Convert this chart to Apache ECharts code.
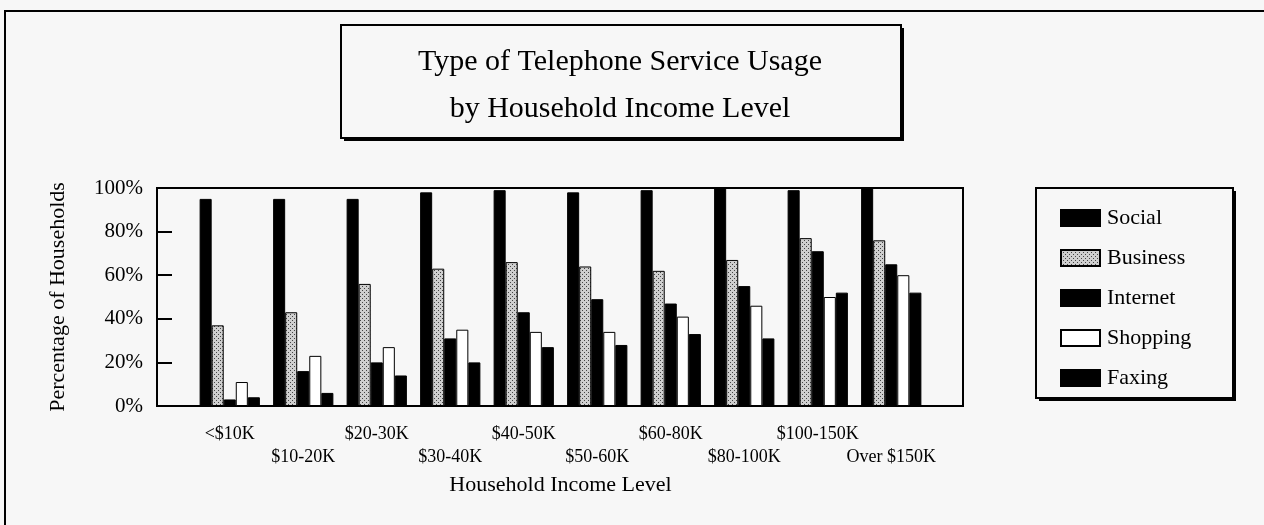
<!DOCTYPE html>
<html>
<head>
<meta charset="utf-8">
<script src="https://cdn.jsdelivr.net/npm/echarts@6/dist/echarts.min.js"></script>
<style>
  html, body { margin: 0; padding: 0; background: #f7f7f7; }
  #chart { width: 1264px; height: 525px; }
</style>
</head>
<body>
<div id="chart"></div>
<script>
var categories = ["<$10K", "$10-20K", "$20-30K", "$30-40K", "$40-50K",
  "$50-60K", "$60-80K", "$80-100K", "$100-150K", "Over $150K"];
var seriesNames = ["Social", "Business", "Internet", "Shopping", "Faxing"];
var social = [95, 95, 95, 98, 99, 98, 99, 100, 99, 100];
var business = [37, 43, 56, 63, 66, 64, 62, 67, 77, 76];
var internet = [3, 16, 20, 31, 43, 49, 47, 55, 71, 65];
var shopping = [11, 23, 27, 35, 34, 34, 41, 46, 50, 60];
var faxing = [4, 6, 14, 20, 27, 28, 33, 31, 52, 52];

var font = "Liberation Serif";

// dotted grey fill for the Business bars
var pat = document.createElement("canvas");
pat.width = 4;
pat.height = 4;
var pctx = pat.getContext("2d");
pctx.fillStyle = "#cfcfcf";
pctx.fillRect(0, 0, 4, 4);
pctx.fillStyle = "#444";
pctx.fillRect(0, 0, 1, 1);
pctx.fillRect(2, 2, 1, 1);

function bar(name, data, fill) {
  return {
    name: name,
    type: "bar",
    data: data,
    barGap: "0%",
    barCategoryGap: "18%",
    itemStyle: { color: fill, borderColor: "#000", borderWidth: 1 }
  };
}

var chart = echarts.init(document.getElementById("chart"));
chart.setOption({
  backgroundColor: "#f7f7f7",
  animation: false,
  title: {
    text: "Type of Telephone Service Usage\nby Household Income Level",
    left: 615,
    top: 34,
    textAlign: "center",
    textStyle: { fontFamily: font, fontSize: 30, fontWeight: "normal", color: "#000", lineHeight: 47 }
  },
  legend: {
    data: seriesNames,
    orient: "vertical",
    left: 1055,
    top: 202,
    itemWidth: 39,
    itemHeight: 16,
    itemGap: 18,
    selectedMode: false,
    icon: "rect",
    textStyle: { fontFamily: font, fontSize: 22, color: "#000", lineHeight: 16, padding: [0, 0, 0, 2] }
  },
  graphic: [
    // outer frame
    { type: "rect", shape: { x: 5, y: 11, width: 1400, height: 700 },
      style: { fill: "none", stroke: "#000", lineWidth: 2 } },
    // title box with shadow
    { type: "rect", shape: { x: 344, y: 28, width: 560, height: 113 }, style: { fill: "#000" } },
    { type: "rect", shape: { x: 341, y: 25, width: 560, height: 113 },
      style: { fill: "#f7f7f7", stroke: "#000", lineWidth: 2 } },
    // legend box with shadow
    { type: "rect", shape: { x: 1039, y: 191, width: 197, height: 210 }, style: { fill: "#000" } },
    { type: "rect", shape: { x: 1036, y: 188, width: 197, height: 210 },
      style: { fill: "#f7f7f7", stroke: "#000", lineWidth: 2 } },
    // plot frame
    { type: "rect", shape: { x: 157, y: 188, width: 806, height: 218 },
      style: { fill: "none", stroke: "#000", lineWidth: 2 } }
  ],
  grid: { left: 193, right: 336, top: 188, bottom: 119 },
  xAxis: {
    type: "category",
    data: categories,
    name: "Household Income Level",
    nameLocation: "middle",
    nameGap: 68,
    nameTextStyle: { fontFamily: font, fontSize: 22, color: "#000" },
    axisLine: { show: false },
    axisTick: { show: false },
    axisLabel: {
      interval: 0,
      margin: 17,
      fontFamily: font,
      fontSize: 18,
      color: "#000",
      lineHeight: 23,
      formatter: function (v, i) { return i % 2 ? "\n" + v : v; }
    }
  },
  yAxis: {
    type: "value",
    min: 0,
    max: 100,
    interval: 20,
    offset: 36,
    name: "Percentage of Households",
    nameLocation: "middle",
    nameGap: 88,
    nameTextStyle: { fontFamily: font, fontSize: 22, color: "#000" },
    axisLine: { show: true, lineStyle: { color: "#000", width: 2 } },
    axisTick: { show: true, inside: true, length: 15, lineStyle: { color: "#000", width: 2 } },
    splitLine: { show: false },
    axisLabel: { formatter: "{value}%", margin: 14, fontFamily: font, fontSize: 21, color: "#000" }
  },
  series: [
    bar("Social", social, "#000"),
    bar("Business", business, { image: pat, repeat: "repeat" }),
    bar("Internet", internet, "#000"),
    bar("Shopping", shopping, "#fff"),
    bar("Faxing", faxing, "#000")
  ]
});
</script>
</body>
</html>
